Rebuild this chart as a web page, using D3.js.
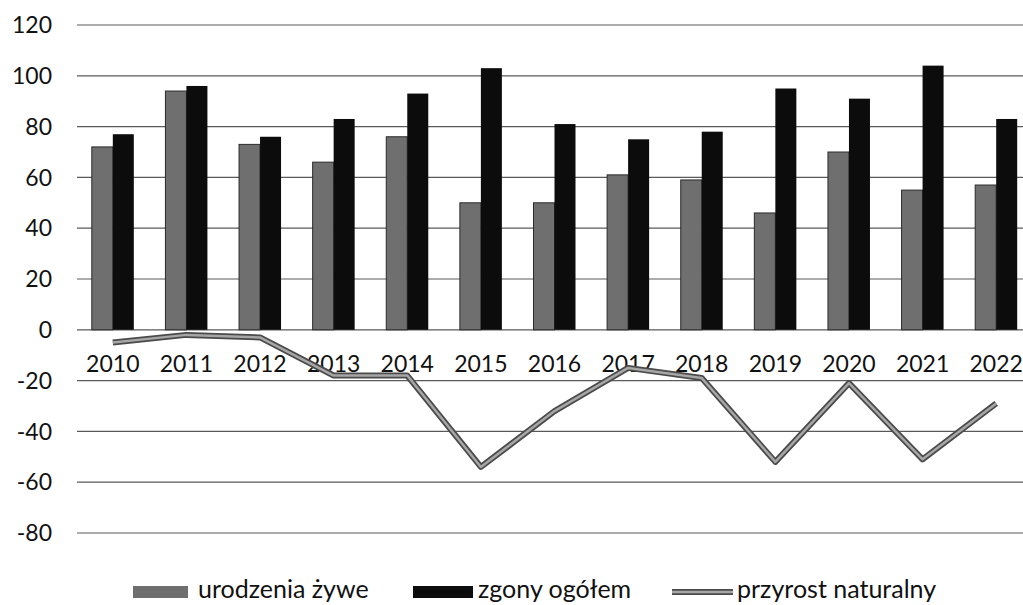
<!DOCTYPE html>
<html>
<head>
<meta charset="utf-8">
<script src="https://cdn.jsdelivr.net/npm/d3@7"></script>
<style>
  body { margin: 0; background: #fff; }
  svg { display: block; font-family: Lato, "Open Sans", sans-serif; }
</style>
</head>
<body>
<svg id="chart" width="1023" height="605"></svg>
<script>
var years = ["2010", "2011", "2012", "2013", "2014", "2015", "2016", "2017", "2018", "2019", "2020", "2021", "2022"];
var urodzenia = [72, 94, 73, 66, 76, 50, 50, 61, 59, 46, 70, 55, 57];
var zgony = [77, 96, 76, 83, 93, 103, 81, 75, 78, 95, 91, 104, 83];
var przyrost = [-5, -2, -3, -18, -18, -54, -32, -15, -19, -52, -21, -51, -29];
var yTicks = [120, 100, 80, 60, 40, 20, 0, -20, -40, -60, -80];
var legendItems = ["urodzenia żywe", "zgony ogółem", "przyrost naturalny"];

var svg = d3.select("#chart");

var x = d3.scaleBand()
    .domain(years)
    .range([76, 1033])
    .padding(0);

var y = d3.scaleLinear()
    .domain([-80, 120])
    .range([533, 25]);

var barW = 21;

// gridlines
svg.append("g")
    .selectAll("line")
    .data(yTicks)
    .enter().append("line")
    .attr("x1", 77)
    .attr("x2", 1023)
    .attr("y1", d => y(d))
    .attr("y2", d => y(d))
    .attr("stroke", "#5a5a5a")
    .attr("stroke-width", 1.2);

// y labels
svg.append("g")
    .attr("font-size", 23)
    .attr("text-anchor", "end")
    .selectAll("text")
    .data(yTicks)
    .enter().append("text")
    .attr("x", 52)
    .attr("y", d => y(d))
    .attr("dy", "0.36em")
    .attr("fill", "#111")
    .text(d => d);

// bars
var groups = svg.append("g")
    .selectAll("g")
    .data(years)
    .enter().append("g");

groups.append("rect")
    .attr("x", d => x(d) + x.bandwidth() / 2 - barW)
    .attr("y", (d, i) => y(urodzenia[i]))
    .attr("width", barW)
    .attr("height", (d, i) => y(0) - y(urodzenia[i]))
    .attr("fill", "#6f6f6f")
    .attr("stroke", "#2a2a2a")
    .attr("stroke-width", 1);

groups.append("rect")
    .attr("x", d => x(d) + x.bandwidth() / 2)
    .attr("y", (d, i) => y(zgony[i]))
    .attr("width", barW)
    .attr("height", (d, i) => y(0) - y(zgony[i]))
    .attr("fill", "#0c0c0c");

// category labels
svg.append("g")
    .attr("font-size", 23)
    .attr("text-anchor", "middle")
    .selectAll("text")
    .data(years)
    .enter().append("text")
    .attr("x", d => x(d) + x.bandwidth() / 2)
    .attr("y", 372)
    .attr("fill", "#111")
    .text(d => d);

// line
var line = d3.line()
    .x((d, i) => x(years[i]) + x.bandwidth() / 2)
    .y(d => y(d));

svg.append("path")
    .datum(przyrost)
    .attr("d", line)
    .attr("fill", "none")
    .attr("stroke", "#4a4a4a")
    .attr("stroke-width", 6)
    .attr("stroke-linejoin", "round");

svg.append("path")
    .datum(przyrost)
    .attr("d", line)
    .attr("fill", "none")
    .attr("stroke", "#a6a6a6")
    .attr("stroke-width", 2.5)
    .attr("stroke-linejoin", "round");

// legend
var legendX = [133, 413, 672];
var legend = svg.append("g")
    .attr("font-size", 25)
    .selectAll("g")
    .data(legendItems)
    .enter().append("g")
    .attr("transform", (d, i) => "translate(" + legendX[i] + ",0)");

legend.each(function(d, i) {
    var g = d3.select(this);
    if (i < 2) {
        g.append("rect")
            .attr("x", 0)
            .attr("y", 586)
            .attr("width", i === 0 ? 55 : 60)
            .attr("height", 12)
            .attr("fill", i === 0 ? "#6f6f6f" : "#0c0c0c");
    } else {
        g.append("line")
            .attr("x1", 0).attr("x2", 61)
            .attr("y1", 592).attr("y2", 592)
            .attr("stroke", "#4a4a4a")
            .attr("stroke-width", 6);
        g.append("line")
            .attr("x1", 0).attr("x2", 61)
            .attr("y1", 592).attr("y2", 592)
            .attr("stroke", "#a6a6a6")
            .attr("stroke-width", 2.5);
    }
    g.append("text")
        .attr("x", 65)
        .attr("y", 598)
        .attr("fill", "#111")
        .text(d);
});
</script>
</body>
</html>
